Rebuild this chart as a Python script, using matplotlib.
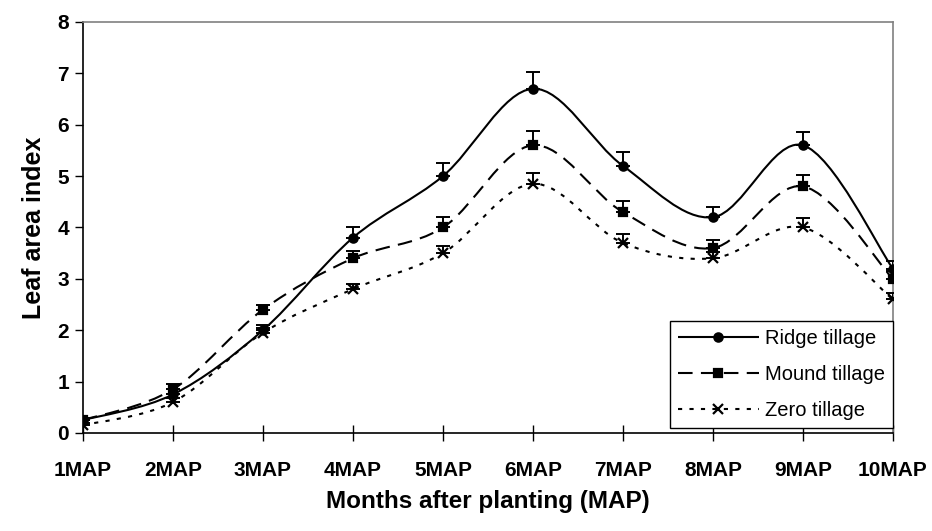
import matplotlib
matplotlib.use('Agg')
import matplotlib.pyplot as plt
from matplotlib.path import Path
import matplotlib.patches as patches
from matplotlib.lines import Line2D
import numpy as np

plt.rcParams['font.family'] = ['Liberation Sans', 'DejaVu Sans']

months = ['1MAP', '2MAP', '3MAP', '4MAP', '5MAP', '6MAP', '7MAP', '8MAP', '9MAP', '10MAP']
ridge = [0.25, 0.75, 2.0, 3.8, 5.0, 6.7, 5.2, 4.2, 5.6, 3.2]
ridge_err = [0.05, 0.1, 0.1, 0.2, 0.25, 0.33, 0.26, 0.2, 0.26, 0.15]
mound = [0.25, 0.85, 2.4, 3.4, 4.0, 5.6, 4.3, 3.6, 4.8, 3.0]
mound_err = [0.05, 0.1, 0.1, 0.15, 0.2, 0.28, 0.22, 0.15, 0.23, 0.15]
zero = [0.15, 0.6, 1.95, 2.8, 3.5, 4.85, 3.7, 3.4, 4.0, 2.6]
zero_err = [0.05, 0.08, 0.1, 0.1, 0.14, 0.22, 0.17, 0.12, 0.18, 0.12]


# excel style smoothed line drawn as bezier path
def smooth_path(xs, ys):
    pts = list(zip(xs, ys))
    verts = [pts[0]]
    codes = [Path.MOVETO]
    n = len(pts)
    for i in range(n - 1):
        p0 = pts[i - 1] if i > 0 else pts[i]
        p1 = pts[i]
        p2 = pts[i + 1]
        p3 = pts[i + 2] if i + 2 < n else pts[i + 1]
        c1 = (p1[0] + (p2[0] - p0[0]) / 6.0, p1[1] + (p2[1] - p0[1]) / 6.0)
        c2 = (p2[0] - (p3[0] - p1[0]) / 6.0, p2[1] - (p3[1] - p1[1]) / 6.0)
        verts.extend([c1, c2, p2])
        codes.extend([Path.CURVE4, Path.CURVE4, Path.CURVE4])
    return Path(verts, codes)


fig = plt.figure(figsize=(9.32, 5.31), dpi=100)
ax = fig.add_axes([0.089, 0.1846, 0.869, 0.774])
x = np.arange(len(months))

series = [
    (ridge, ridge_err, 'Ridge tillage', 'o', 6, (0, ())),
    (mound, mound_err, 'Mound tillage', 's', 5.5, (0, (7, 4))),
    (zero, zero_err, 'Zero tillage', 'x', 7, (0, (2, 3.5))),
]

handles = []
for vals, err, name, mk, ms, dash in series:
    patch = patches.PathPatch(smooth_path(x, vals), fill=False, edgecolor='black',
                              lw=1.5, linestyle=dash, zorder=3)
    ax.add_patch(patch)
    ax.errorbar(x, vals, yerr=[np.zeros(len(err)), err], fmt='none', ecolor='black',
                elinewidth=1.4, capsize=5, capthick=1.4, zorder=4)
    ax.plot(x, vals, linestyle='none', marker=mk, markersize=ms, color='black',
            markeredgewidth=1.6, zorder=5)
    handles.append(Line2D([], [], color='black', lw=1.5, linestyle=dash, marker=mk,
                          markersize=ms, markeredgewidth=1.6, label=name))

ax.set_xlim(0, 9)
ax.set_ylim(0, 8)
ax.set_xticks(x)
ax.set_xticklabels(months, fontsize=15, fontweight='bold')
ax.set_yticks(range(0, 9))
ax.set_yticklabels([str(i) for i in range(0, 9)], fontsize=15, fontweight='bold')
ax.tick_params(axis='x', direction='inout', length=11, width=1, pad=15)
ax.tick_params(axis='y', direction='out', length=6, width=1, pad=4)

ax.spines['left'].set_color('black')
ax.spines['bottom'].set_color('black')
ax.spines['top'].set_color('#808080')
ax.spines['right'].set_color('#808080')
for s in ax.spines.values():
    s.set_linewidth(1.2)

ax.set_xlabel('Months after planting (MAP)', fontsize=17.5, fontweight='bold', labelpad=7)
ax.set_ylabel('Leaf area index', fontsize=18, fontweight='bold', labelpad=8)

leg = ax.legend(handles=handles, loc='lower right', fontsize=14.5, frameon=True,
                fancybox=False, edgecolor='black', framealpha=1, handlelength=4.0,
                labelspacing=0.85, borderpad=0.4, handletextpad=0.3,
                borderaxespad=0.0, bbox_to_anchor=(1.0, 0.012))
leg.get_frame().set_linewidth(1.0)

fig.savefig('out.png', dpi=100)
